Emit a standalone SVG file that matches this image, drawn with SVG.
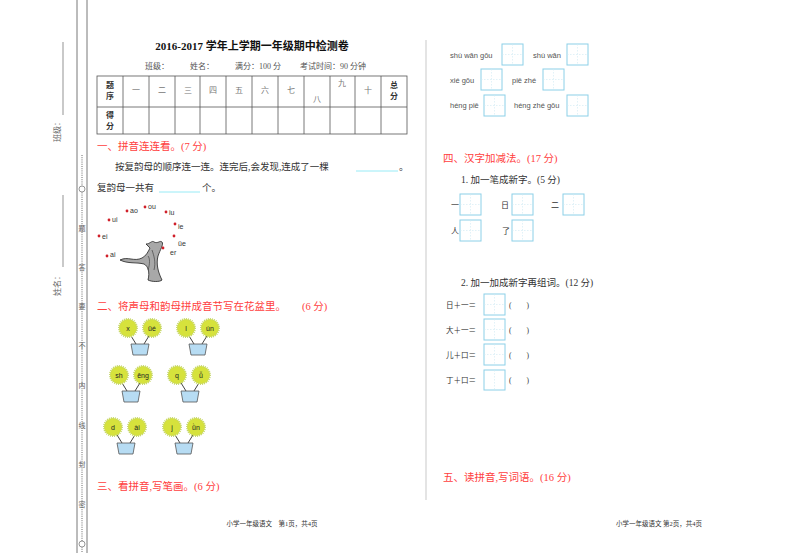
<svg xmlns="http://www.w3.org/2000/svg" width="800" height="553" viewBox="0 0 800 553">
<defs>
<style>
.s{font-family:"Liberation Serif","Noto Sans CJK SC",serif;fill:#333}
.r{font-family:"Liberation Serif","Noto Sans CJK SC",serif;fill:#ff4040;font-size:10.5px}
.p{font-family:"Liberation Sans","DejaVu Sans",sans-serif;fill:#555;font-size:7.5px}
.f{font-family:"Liberation Sans","DejaVu Sans",sans-serif;fill:#222;font-size:7px;text-anchor:middle}
.bx{fill:#fff;stroke:#8cd0e8;stroke-width:1}
.gd{stroke:#cde9f3;stroke-width:0.6;stroke-dasharray:1.5 1.5}
.fl{fill:#d6e23c;stroke:#c6d66a;stroke-width:2;stroke-dasharray:1 1}
.pot{fill:#b7dcf3;stroke:#555;stroke-width:0.8}
.st{stroke:#444;stroke-width:1}
.dot{fill:#d0202a}
.m{font-family:"Liberation Serif","Noto Sans CJK SC",serif;fill:#666;font-size:7px;text-anchor:middle}
.g{fill:#777}
</style>
<g id="box"><rect class="bx" x="0" y="0" width="21" height="21"/><line class="gd" x1="10.5" y1="0" x2="10.5" y2="21"/><line class="gd" x1="0" y1="10.5" x2="21" y2="10.5"/></g>
<g id="pot"><line class="st" x1="-12" y1="-13" x2="-4" y2="0"/><line class="st" x1="12" y1="-13" x2="4" y2="0"/><path class="pot" d="M-9 0H9L7 11H-7Z"/></g>
</defs>
<rect width="800" height="553" fill="#fff"/>
<g id="margin">
<line x1="77" y1="0" x2="77" y2="553" stroke="#555" stroke-width="0.8"/>
<line x1="87" y1="0" x2="87" y2="553" stroke="#555" stroke-width="0.8"/>
<line x1="82" y1="155" x2="82" y2="553" stroke="#444" stroke-width="0.8" stroke-dasharray="1 1.2"/>
<circle cx="82" cy="189" r="3" fill="#fff" stroke="#555" stroke-width="0.6"/>
<circle cx="82" cy="544" r="3" fill="#fff" stroke="#555" stroke-width="0.6"/>
<g class="m">
<text x="82" y="231">题</text><text x="82" y="270">答</text><text x="82" y="309">要</text><text x="82" y="348">不</text><text x="82" y="388">内</text><text x="82" y="428">线</text><text x="82" y="467">封</text><text x="82" y="507">密</text>
</g>
<line x1="63" y1="42" x2="63" y2="115" stroke="#666" stroke-width="0.7"/>
<text class="m" transform="translate(60,130) rotate(-90)" style="font-size:8px">班级：</text>
<line x1="63" y1="195" x2="63" y2="267" stroke="#666" stroke-width="0.7"/>
<text class="m" transform="translate(60,284) rotate(-90)" style="font-size:8px">姓名：</text>
</g>
<text class="s" x="252" y="50" text-anchor="middle" style="font-size:11px;font-weight:bold;fill:#111">2016-2017 学年上学期一年级期中检测卷</text>
<text class="s" x="145" y="69" style="font-size:8px;fill:#555">班级：</text>
<text class="s" x="190" y="69" style="font-size:8px;fill:#555">姓名：</text>
<text class="s" x="235" y="69" style="font-size:8px;fill:#555">满分：100 分</text>
<text class="s" x="300" y="69" style="font-size:8px;fill:#555">考试时间：90 分钟</text>
<g id="table" stroke="#555" stroke-width="0.8" fill="none">
<rect x="97" y="76" width="310" height="58"/>
<line x1="97" y1="107" x2="407" y2="107"/>
<path d="M123 76V134M149 76V134M175 76V134M200 76V134M226 76V134M252 76V134M278 76V134M304 76V134M330 76V134M355 76V134M381 76V134"/>
</g>
<g class="s" style="font-size:8px" text-anchor="middle">
<text x="110" y="88" style="font-weight:bold">题</text><text x="110" y="99" style="font-weight:bold">序</text>
<text x="110" y="118" style="font-weight:bold">得</text><text x="110" y="129" style="font-weight:bold">分</text>
<text class="g" x="136" y="93">一</text><text class="g" x="162" y="93">二</text><text class="g" x="188" y="93">三</text><text class="g" x="213" y="93">四</text><text class="g" x="239" y="93">五</text><text class="g" x="265" y="93">六</text><text class="g" x="291" y="93">七</text><text class="g" x="317" y="102">八</text><text class="g" x="342" y="86">九</text><text class="g" x="368" y="93">十</text>
<text x="394" y="88" style="font-weight:bold">总</text><text x="394" y="99" style="font-weight:bold">分</text>
</g>
<text class="r" x="97" y="150">一、拼音连连看。(7 分)</text>
<text class="s" x="115" y="170" style="font-size:9.5px">按复韵母的顺序连一连。连完后,会发现,连成了一棵</text>
<line x1="356" y1="171" x2="398" y2="171" stroke="#7fe6f4" stroke-width="0.8"/>
<text class="s" x="399" y="170" style="font-size:9.5px">。</text>
<text class="s" x="97" y="191" style="font-size:9.5px">复韵母一共有</text>
<line x1="159" y1="192" x2="200" y2="192" stroke="#7fe6f4" stroke-width="0.8"/>
<text class="s" x="202" y="191" style="font-size:9.5px">个。</text>
<g id="tree">
<path d="M120 260C128 256 134 262 142 258C146 256 148 252 150 248L146 244C150 244 152 240 154 242C158 244 160 240 162 242C164 244 160 250 158 256C156 264 158 272 162 280C160 282 152 282 148 280C150 272 148 266 144 264C136 262 128 264 120 260Z" fill="#a8a8a8" stroke="#222" stroke-width="0.8"/>
<path d="M152 250C154 256 156 262 154 270M148 270C150 264 150 258 148 256" fill="none" stroke="#333" stroke-width="0.6"/>
<g class="p" style="fill:#333;font-size:7px">
<circle class="dot" cx="127" cy="211" r="1.4"/><text x="130" y="213">ao</text>
<circle class="dot" cx="145" cy="207" r="1.4"/><text x="148" y="209">ou</text>
<circle class="dot" cx="166" cy="212" r="1.4"/><text x="169" y="215">iu</text>
<circle class="dot" cx="109" cy="220" r="1.4"/><text x="112" y="222">ui</text>
<circle class="dot" cx="175" cy="224" r="1.4"/><text x="178" y="229">ie</text>
<circle class="dot" cx="99" cy="236" r="1.4"/><text x="102" y="239">ei</text>
<circle class="dot" cx="174" cy="236" r="1.4"/><text x="178" y="246">üe</text>
<circle class="dot" cx="163" cy="248" r="1.4"/><text x="170" y="255">er</text>
<circle class="dot" cx="107" cy="256" r="1.4"/><text x="110" y="257">ai</text>
</g>
</g>
<text class="r" x="97" y="310">二、将声母和韵母拼成音节写在花盆里。</text>
<text class="r" x="302" y="310">(6 分)</text>
<g id="flowers">
<use href="#pot" x="140" y="344"/><use href="#pot" x="198" y="344"/>
<use href="#pot" x="131" y="391"/><use href="#pot" x="190" y="391"/>
<use href="#pot" x="126" y="443"/><use href="#pot" x="184" y="443"/>
<circle class="fl" cx="128" cy="328" r="9"/><circle class="fl" cx="152" cy="328" r="9"/>
<circle class="fl" cx="186" cy="328" r="9"/><circle class="fl" cx="210" cy="328" r="9"/>
<circle class="fl" cx="119" cy="375" r="9"/><circle class="fl" cx="143" cy="375" r="9"/>
<circle class="fl" cx="177" cy="375" r="9"/><circle class="fl" cx="201" cy="375" r="9"/>
<circle class="fl" cx="113" cy="427" r="9"/><circle class="fl" cx="137" cy="427" r="9"/>
<circle class="fl" cx="172" cy="427" r="9"/><circle class="fl" cx="196" cy="427" r="9"/>
<g class="f">
<text x="128" y="331">x</text><text x="152" y="331">üé</text><text x="186" y="331">l</text><text x="210" y="331">ún</text>
<text x="119" y="378">sh</text><text x="143" y="378">ēng</text><text x="177" y="378">q</text><text x="201" y="378">ǚ</text>
<text x="113" y="430">d</text><text x="137" y="430">ài</text><text x="172" y="430">j</text><text x="196" y="430">ǜn</text>
</g>
</g>
<text class="r" x="97" y="490">三、看拼音,写笔画。(6 分)</text>
<text class="s" x="272" y="526" text-anchor="middle" style="font-size:6.5px">小学一年级语文　第1页，共4页</text>
<line x1="426" y1="40" x2="426" y2="500" stroke="#bbb" stroke-width="0.8"/>
<g class="p">
<text x="450" y="58">shù wān gōu</text><text x="533" y="58">shù wān</text>
<text x="450" y="83">xié gōu</text><text x="512" y="83">piě zhé</text>
<text x="450" y="108">héng piě</text><text x="514" y="108">héng zhé gōu</text>
</g>
<use href="#box" x="502" y="44"/><use href="#box" x="567" y="44"/>
<use href="#box" x="481" y="69"/><use href="#box" x="543" y="69"/>
<use href="#box" x="484" y="95"/><use href="#box" x="567" y="95"/>
<text class="r" x="443" y="162">四、汉字加减法。(17 分)</text>
<text class="s" x="461" y="183" style="font-size:9.5px">1. 加一笔成新字。(5 分)</text>
<g class="s" style="font-size:8px">
<text x="451" y="208">一</text><text x="501" y="208">日</text><text x="551" y="208">二</text>
<text x="451" y="234">人</text><text x="502" y="234">了</text>
</g>
<use href="#box" x="460" y="194"/><use href="#box" x="512" y="194"/><use href="#box" x="563" y="194"/>
<use href="#box" x="460" y="220"/><use href="#box" x="512" y="220"/>
<text class="s" x="461" y="286" style="font-size:9.5px">2. 加一加成新字再组词。(12 分)</text>
<g class="s" style="font-size:7.5px">
<text x="446" y="308">日＋一＝</text><text x="509" y="308">(　　)</text>
<text x="446" y="333">大＋一＝</text><text x="509" y="333">(　　)</text>
<text x="446" y="358">儿＋口＝</text><text x="509" y="358">(　　)</text>
<text x="446" y="383">丁＋口＝</text><text x="509" y="383">(　　)</text>
</g>
<use href="#box" x="484" y="294"/><use href="#box" x="484" y="319"/><use href="#box" x="484" y="344"/>
<rect class="bx" x="484" y="370" width="21" height="20"/>
<line class="gd" x1="494.5" y1="370" x2="494.5" y2="390"/>
<text class="r" x="443" y="481">五、读拼音,写词语。(16 分)</text>
<text class="s" x="659" y="526" text-anchor="middle" style="font-size:6.5px">小学一年级语文 第2页，共4页</text>
</svg>
